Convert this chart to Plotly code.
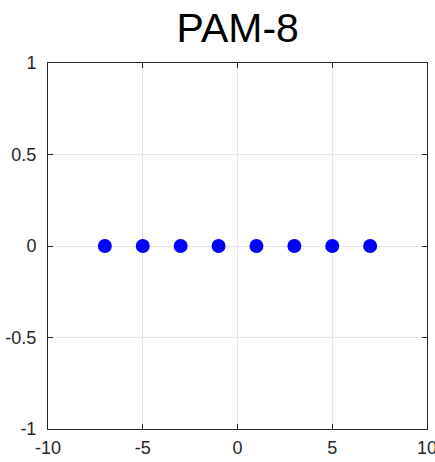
import plotly.graph_objects as go

x_vals = [-7, -5, -3, -1, 1, 3, 5, 7]
y_vals = [0, 0, 0, 0, 0, 0, 0, 0]
x_ticks = [-10, -5, 0, 5, 10]
y_ticks = [-1, -0.5, 0, 0.5, 1]
y_tick_text = ["-1", "-0.5", "0", "0.5", "1"]
title_text = "PAM-8"

fig = go.Figure()
fig.add_trace(go.Scatter(
    x=x_vals, y=y_vals, mode="markers",
    marker=dict(color="#0000ff", size=14, line=dict(width=0)),
    showlegend=False,
))

axis_common = dict(
    showline=True, linecolor="#262626", linewidth=1, mirror="ticks",
    ticks="inside", ticklen=5, tickcolor="#262626", tickwidth=1,
    showgrid=True, gridcolor="#e6e6e6", gridwidth=1,
    zeroline=False, automargin=False, ticklabeloverflow="allow",
    tickfont=dict(family="Liberation Sans, Arial", size=18, color="#262626"),
)

fig.update_layout(
    width=435, height=462,
    margin=dict(l=48, r=8, t=63, b=33),
    paper_bgcolor="white", plot_bgcolor="white",
    title=dict(text=title_text, x=0.5465, xanchor="center", y=1 - 42 / 462, yanchor="bottom",
               font=dict(family="Liberation Sans, Arial", size=41, color="black")),
    xaxis=dict(range=[-10, 10], tickvals=x_ticks, ticktext=[str(v) for v in x_ticks],
               ticklabelstandoff=2, **axis_common),
    yaxis=dict(range=[-1, 1], tickvals=y_ticks, ticktext=y_tick_text,
               ticklabelstandoff=7, **axis_common),
)

fig.write_html("out.html")
